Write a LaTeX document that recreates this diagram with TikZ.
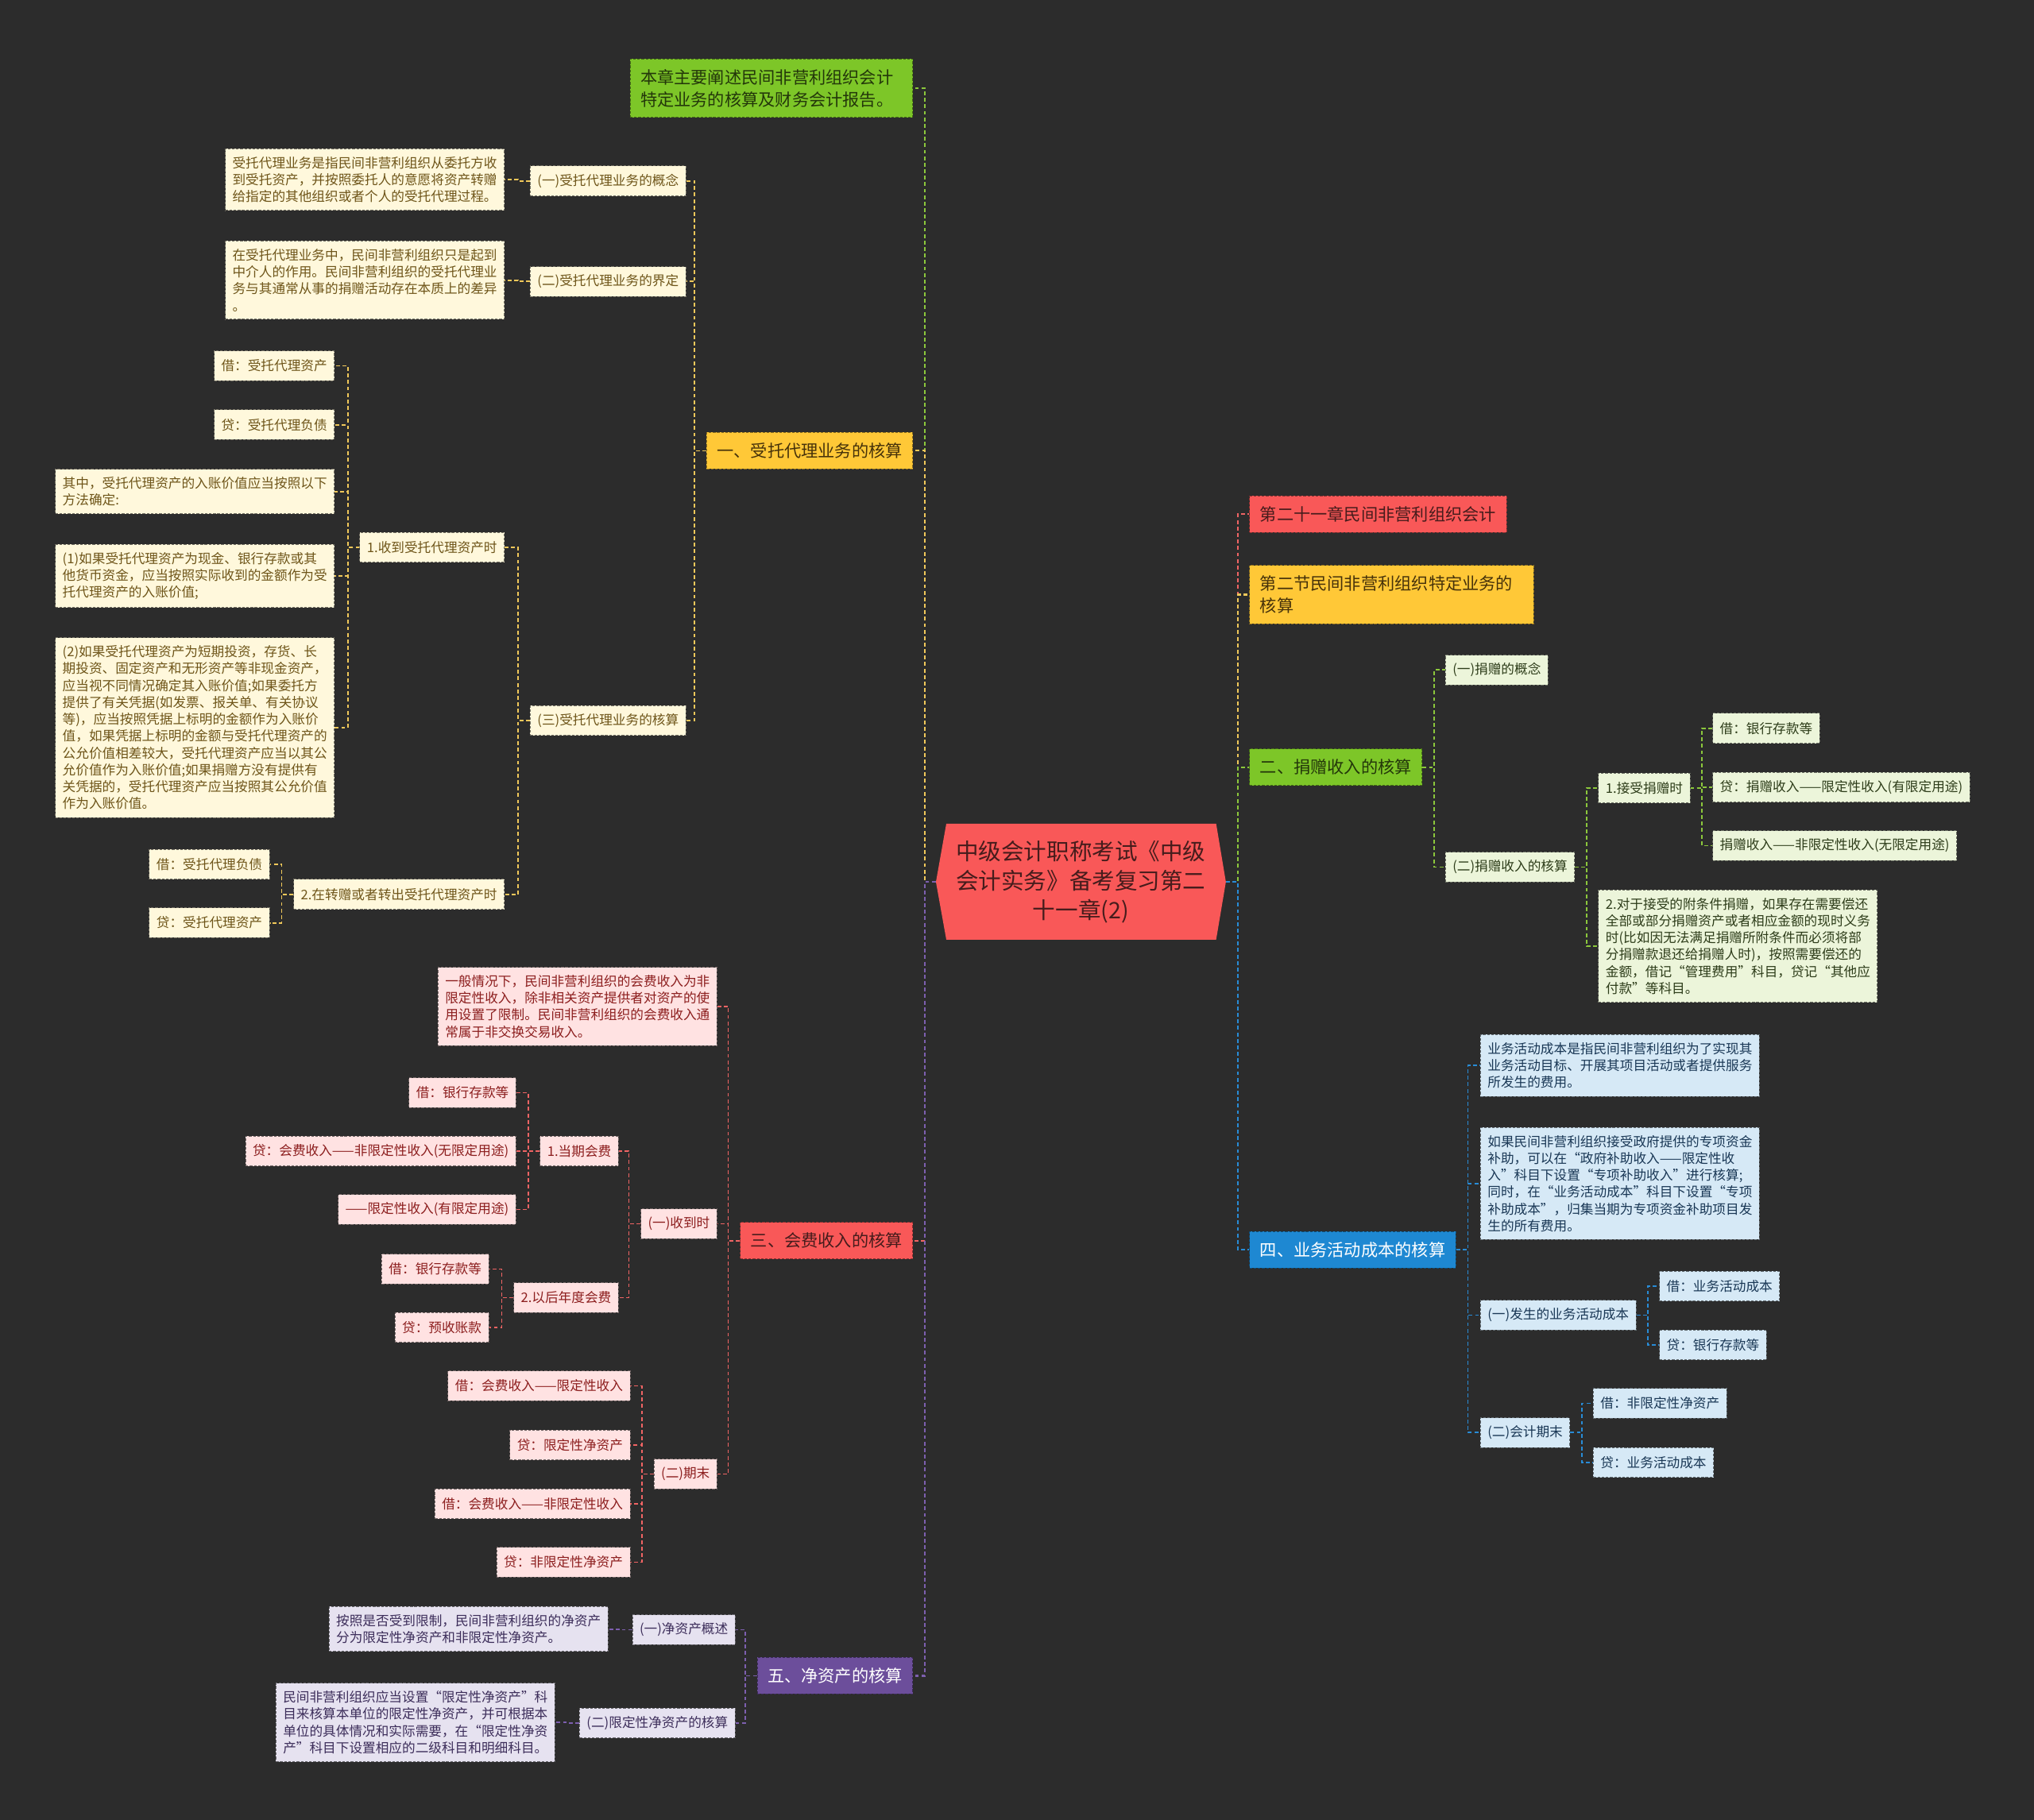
\documentclass[tikz,border=0pt]{standalone}
\usepackage{fontspec}
\setmainfont{Noto Sans CJK SC}
\definecolor{bg}{RGB}{44,44,44}
\definecolor{cRed}{RGB}{249,88,88}
\definecolor{tRed}{RGB}{70,28,28}
\definecolor{cYel}{RGB}{255,200,55}
\definecolor{tYel}{RGB}{70,50,10}
\definecolor{cGrn}{RGB}{125,198,40}
\definecolor{tGrn}{RGB}{35,55,10}
\definecolor{cBlu}{RGB}{30,136,210}
\definecolor{cPur}{RGB}{108,78,155}
\definecolor{fY}{RGB}{255,248,220}
\definecolor{tY}{RGB}{110,85,25}
\definecolor{fR}{RGB}{255,226,226}
\definecolor{tR}{RGB}{140,30,30}
\definecolor{fP}{RGB}{230,226,240}
\definecolor{tP}{RGB}{60,45,90}
\definecolor{fG}{RGB}{236,245,218}
\definecolor{tG}{RGB}{45,60,25}
\definecolor{fB}{RGB}{214,233,246}
\definecolor{tB}{RGB}{25,55,85}
\definecolor{lY}{RGB}{240,200,90}
\definecolor{lG}{RGB}{140,200,60}
\definecolor{lR}{RGB}{240,100,100}
\definecolor{lP}{RGB}{125,95,175}
\definecolor{lB}{RGB}{40,140,215}
\tikzset{
  nd/.style={rectangle, line width=0.6pt, dash pattern=on 2pt off 1.2pt, align=left},
  sm/.style={nd, font=\fontsize{10.2}{13}\selectfont, inner xsep=5.5pt, inner ysep=6pt, minimum height=23pt},
  lg/.style={nd, font=\fontsize{13}{17}\selectfont, inner xsep=8pt, inner ysep=8pt, minimum height=28pt},
  ny/.style={sm, fill=fY, draw=fY!45!black, text=tY},
  nr/.style={sm, fill=fR, draw=fR!45!black, text=tR},
  np/.style={sm, fill=fP, draw=fP!45!black, text=tP},
  ng/.style={sm, fill=fG, draw=fG!45!black, text=tG},
  nb/.style={sm, fill=fB, draw=fB!45!black, text=tB},
  LR/.style={lg, fill=cRed, draw=cRed!55!black, text=tRed},
  LY/.style={lg, fill=cYel, draw=cYel!55!black, text=tYel},
  LG/.style={lg, fill=cGrn, draw=cGrn!55!black, text=tGrn},
  LB/.style={lg, fill=cBlu, draw=cBlu!55!black, text=white},
  LP/.style={lg, fill=cPur, draw=cPur!55!black, text=white},
  wide/.style={text width=204pt},
  cn/.style={line width=1.05pt, dash pattern=on 3pt off 2pt},
  cnt/.style={line width=1.35pt, dash pattern=on 3pt off 2pt},
}
\newcommand\lconn[3]{\draw[cn,#1] (#2.west) -- ++(-9pt,0) |- (#3.east);}
\newcommand\rconn[3]{\draw[cn,#1] (#2.east) -- ++(9pt,0) |- (#3.west);}
\begin{document}
\begin{tikzpicture}[x=1pt,y=-1pt]
\fill[bg] (0,0) rectangle (1568,1403);
\useasboundingbox (0,0) rectangle (1568,1403);

% central node
\fill[cRed] (721.5,680) -- (729.5,635) -- (937.5,635) -- (945,680) -- (937.5,724.5) -- (729.5,724.5) -- cycle;
\node[minimum width=223.5pt, minimum height=89.5pt, inner sep=0pt, align=center, text=tRed,
  font=\fontsize{17.5}{22.6}\selectfont] (C) at (833.25,680)
  {中级会计职称考试《中级\\会计实务》备考复习第二\\十一章(2)};

% ---------- left level 1 ----------
\node[LG, anchor=east, text width=202pt] (g0) at (704,68) {本章主要阐述民间非营利组织会计\\特定业务的核算及财务会计报告。};
\node[LY, anchor=east] (y1) at (704,347.5) {一、受托代理业务的核算};
\node[LR, anchor=east] (r3) at (704,956.5) {三、会费收入的核算};
\node[LP, anchor=east] (p5) at (704,1292) {五、净资产的核算};

% ---------- right level 1 ----------
\node[LR, anchor=west] (rr) at (963,396.5) {第二十一章民间非营利组织会计};
\node[LY, anchor=west, text width=203pt] (ry) at (963,458.5) {第二节民间非营利组织特定业务的\\核算};
\node[LG, anchor=west] (rg) at (963,591.5) {二、捐赠收入的核算};
\node[LB, anchor=west] (rb) at (963,963.5) {四、业务活动成本的核算};

% ---------- yellow branch ----------
\node[ny, anchor=east] (ya) at (529,139.5) {(一)受托代理业务的概念};
\node[ny, anchor=east] (yb) at (529,217) {(二)受托代理业务的界定};
\node[ny, anchor=east] (yc) at (529,555.5) {(三)受托代理业务的核算};
\node[ny, wide, anchor=east] (yat) at (389,138.5) {受托代理业务是指民间非营利组织从委托方收\\到受托资产，并按照委托人的意愿将资产转赠\\给指定的其他组织或者个人的受托代理过程。};
\node[ny, wide, anchor=east] (ybt) at (389,216) {在受托代理业务中，民间非营利组织只是起到\\中介人的作用。民间非营利组织的受托代理业\\务与其通常从事的捐赠活动存在本质上的差异\\。};
\node[ny, anchor=east] (yc1) at (389,422) {1.收到受托代理资产时};
\node[ny, anchor=east] (yc2) at (389,689.5) {2.在转赠或者转出受托代理资产时};
\node[ny, anchor=east] (yc1a) at (258,282) {借：受托代理资产};
\node[ny, anchor=east] (yc1b) at (258,327.5) {贷：受托代理负债};
\node[ny, wide, anchor=east] (yc1c) at (258,379) {其中，受托代理资产的入账价值应当按照以下\\方法确定:};
\node[ny, wide, anchor=east] (yc1d) at (258,444) {(1)如果受托代理资产为现金、银行存款或其\\他货币资金，应当按照实际收到的金额作为受\\托代理资产的入账价值;};
\node[ny, wide, anchor=east] (yc1e) at (258,561) {(2)如果受托代理资产为短期投资，存货、长\\期投资、固定资产和无形资产等非现金资产，\\应当视不同情况确定其入账价值;如果委托方\\提供了有关凭据(如发票、报关单、有关协议\\等)，应当按照凭据上标明的金额作为入账价\\值，如果凭据上标明的金额与受托代理资产的\\公允价值相差较大，受托代理资产应当以其公\\允价值作为入账价值;如果捐赠方没有提供有\\关凭据的，受托代理资产应当按照其公允价值\\作为入账价值。};
\node[ny, anchor=east] (yc2a) at (208,666.5) {借：受托代理负债};
\node[ny, anchor=east] (yc2b) at (208,711.5) {贷：受托代理资产};

% ---------- red branch ----------
\node[nr, wide, anchor=east] (rt) at (553,776) {一般情况下，民间非营利组织的会费收入为非\\限定性收入，除非相关资产提供者对资产的使\\用设置了限制。民间非营利组织的会费收入通\\常属于非交换交易收入。};
\node[nr, anchor=east] (ra) at (553,943.5) {(一)收到时};
\node[nr, anchor=east] (rbq) at (553,1136.5) {(二)期末};
\node[nr, anchor=east] (ra1) at (477,887.5) {1.当期会费};
\node[nr, anchor=east] (ra2) at (477,1000.5) {2.以后年度会费};
\node[nr, anchor=east] (ra1a) at (398,842.5) {借：银行存款等};
\node[nr, anchor=east] (ra1b) at (398,887.5) {贷：会费收入——非限定性收入(无限定用途)};
\node[nr, anchor=east] (ra1c) at (398,932.5) {——限定性收入(有限定用途)};
\node[nr, anchor=east] (ra2a) at (377,978.5) {借：银行存款等};
\node[nr, anchor=east] (ra2b) at (377,1023.5) {贷：预收账款};
\node[nr, anchor=east] (rb1) at (486,1068.5) {借：会费收入——限定性收入};
\node[nr, anchor=east] (rb2) at (486,1114) {贷：限定性净资产};
\node[nr, anchor=east] (rb3) at (486,1159.5) {借：会费收入——非限定性收入};
\node[nr, anchor=east] (rb4) at (486,1204.5) {贷：非限定性净资产};

% ---------- purple branch ----------
\node[np, anchor=east] (pa) at (567,1256.5) {(一)净资产概述};
\node[np, anchor=east] (pb) at (567,1328.5) {(二)限定性净资产的核算};
\node[np, wide, anchor=east] (pat) at (469,1256) {按照是否受到限制，民间非营利组织的净资产\\分为限定性净资产和非限定性净资产。};
\node[np, wide, anchor=east] (pbt) at (428,1328) {民间非营利组织应当设置“限定性净资产”科\\目来核算本单位的限定性净资产，并可根据本\\单位的具体情况和实际需要，在“限定性净资\\产”科目下设置相应的二级科目和明细科目。};

% ---------- green branch ----------
\node[ng, anchor=west] (ga) at (1114,516.5) {(一)捐赠的概念};
\node[ng, anchor=west] (gb) at (1114,668.5) {(二)捐赠收入的核算};
\node[ng, anchor=west] (gb1) at (1232,607.5) {1.接受捐赠时};
\node[ng, wide, anchor=west] (gb2) at (1232,729.5) {2.对于接受的附条件捐赠，如果存在需要偿还\\全部或部分捐赠资产或者相应金额的现时义务\\时(比如因无法满足捐赠所附条件而必须将部\\分捐赠款退还给捐赠人时)，按照需要偿还的\\金额，借记“管理费用”科目，贷记“其他应\\付款”等科目。};
\node[ng, anchor=west] (gb1a) at (1320,561.5) {借：银行存款等};
\node[ng, anchor=west] (gb1b) at (1320,607) {贷：捐赠收入——限定性收入(有限定用途)};
\node[ng, anchor=west] (gb1c) at (1320,652) {捐赠收入——非限定性收入(无限定用途)};

% ---------- blue branch ----------
\node[nb, wide, anchor=west] (bt1) at (1141,821.5) {业务活动成本是指民间非营利组织为了实现其\\业务活动目标、开展其项目活动或者提供服务\\所发生的费用。};
\node[nb, wide, anchor=west] (bt2) at (1141,912.5) {如果民间非营利组织接受政府提供的专项资金\\补助，可以在“政府补助收入——限定性收\\入”科目下设置“专项补助收入”进行核算;\\同时，在“业务活动成本”科目下设置“专项\\补助成本”，归集当期为专项资金补助项目发\\生的所有费用。};
\node[nb, anchor=west] (ba) at (1141,1014) {(一)发生的业务活动成本};
\node[nb, anchor=west] (bb) at (1141,1104.5) {(二)会计期末};
\node[nb, anchor=west] (ba1) at (1279,991.5) {借：业务活动成本};
\node[nb, anchor=west] (ba2) at (1279,1037) {贷：银行存款等};
\node[nb, anchor=west] (bb1) at (1228,1082) {借：非限定性净资产};
\node[nb, anchor=west] (bb2) at (1228,1127.5) {贷：业务活动成本};

% ---------- connectors: center ----------
\draw[cnt,lG] (C.west) -- ++(-8.5pt,0) |- (g0.east);
\draw[cnt,lY] (C.west) -- ++(-8.5pt,0) |- (y1.east);
\draw[cnt,lR] (C.west) -- ++(-8.5pt,0) |- (r3.east);
\draw[cnt,lP] (C.west) -- ++(-8.5pt,0) |- (p5.east);
\draw[cnt,lR] (C.east) -- ++(9pt,0) |- (rr.west);
\draw[cnt,lY] (C.east) -- ++(9pt,0) |- (ry.west);
\draw[cnt,lG] (C.east) -- ++(9pt,0) |- (rg.west);
\draw[cnt,lB] (C.east) -- ++(9pt,0) |- (rb.west);

% yellow
\lconn{lY}{y1}{ya}
\lconn{lY}{y1}{yb}
\lconn{lY}{y1}{yc}
\lconn{lY}{ya}{yat}
\lconn{lY}{yb}{ybt}
\lconn{lY}{yc}{yc1}
\lconn{lY}{yc}{yc2}
\lconn{lY}{yc1}{yc1a}
\lconn{lY}{yc1}{yc1b}
\lconn{lY}{yc1}{yc1c}
\lconn{lY}{yc1}{yc1d}
\lconn{lY}{yc1}{yc1e}
\lconn{lY}{yc2}{yc2a}
\lconn{lY}{yc2}{yc2b}
% red
\lconn{lR}{r3}{rt}
\lconn{lR}{r3}{ra}
\lconn{lR}{r3}{rbq}
\lconn{lR}{ra}{ra1}
\lconn{lR}{ra}{ra2}
\lconn{lR}{ra1}{ra1a}
\lconn{lR}{ra1}{ra1b}
\lconn{lR}{ra1}{ra1c}
\lconn{lR}{ra2}{ra2a}
\lconn{lR}{ra2}{ra2b}
\lconn{lR}{rbq}{rb1}
\lconn{lR}{rbq}{rb2}
\lconn{lR}{rbq}{rb3}
\lconn{lR}{rbq}{rb4}
% purple
\lconn{lP}{p5}{pa}
\lconn{lP}{p5}{pb}
\lconn{lP}{pa}{pat}
\lconn{lP}{pb}{pbt}
% green
\rconn{lG}{rg}{ga}
\rconn{lG}{rg}{gb}
\rconn{lG}{gb}{gb1}
\rconn{lG}{gb}{gb2}
\rconn{lG}{gb1}{gb1a}
\rconn{lG}{gb1}{gb1b}
\rconn{lG}{gb1}{gb1c}
% blue
\rconn{lB}{rb}{bt1}
\rconn{lB}{rb}{bt2}
\rconn{lB}{rb}{ba}
\rconn{lB}{rb}{bb}
\rconn{lB}{ba}{ba1}
\rconn{lB}{ba}{ba2}
\rconn{lB}{bb}{bb1}
\rconn{lB}{bb}{bb2}
\end{tikzpicture}
\end{document}
